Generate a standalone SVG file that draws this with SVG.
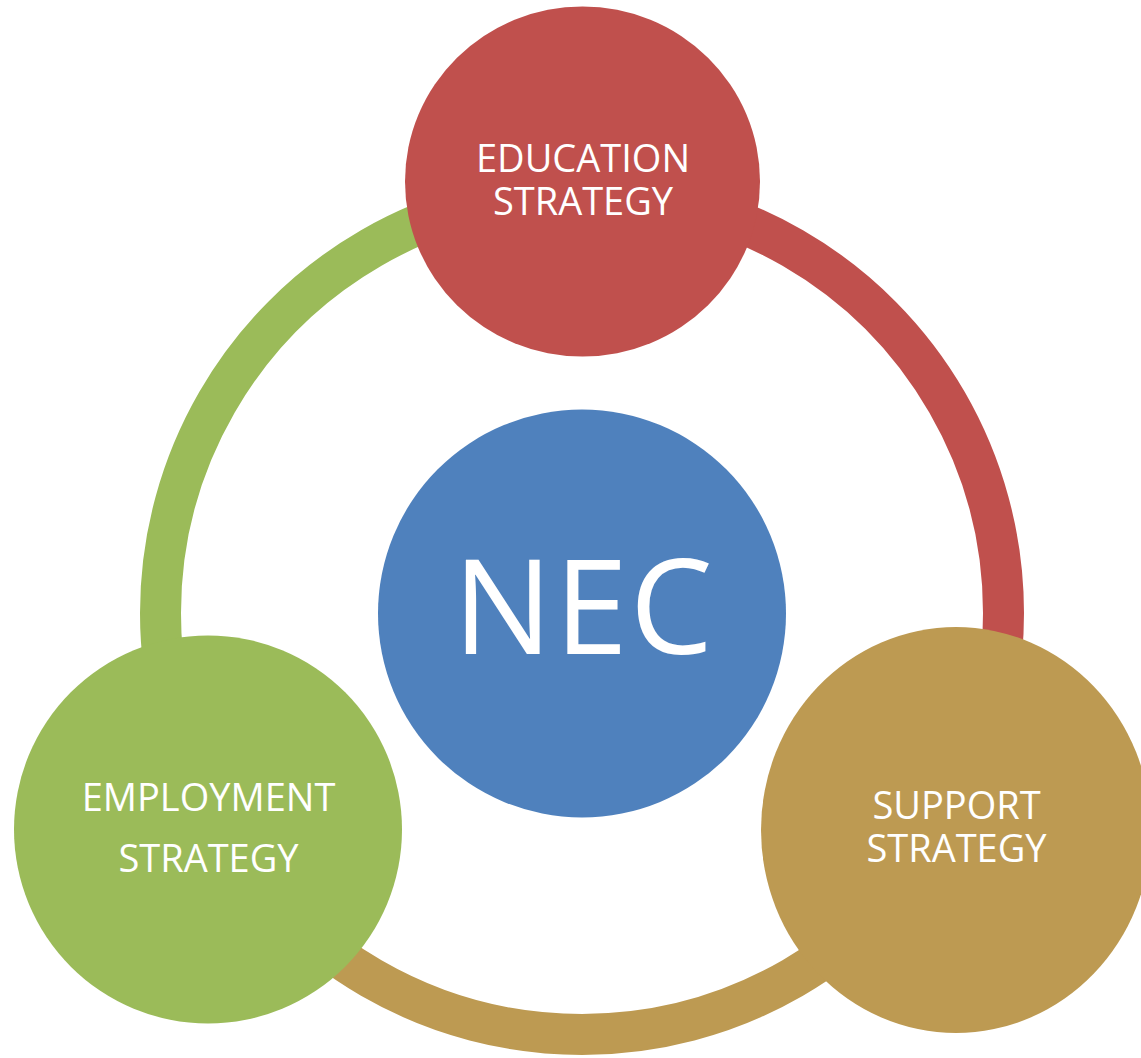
<svg xmlns="http://www.w3.org/2000/svg" width="1141" height="1058" viewBox="0 0 1141 1058">
<style>
.arc{fill:none;stroke-width:41}
.lbl{fill:#FFFFFF;font-family:"Open Sans","Noto Sans","Liberation Sans",sans-serif;font-size:38px;text-anchor:middle}
.big{fill:#FFFFFF;font-family:"Open Sans","Noto Sans","Liberation Sans",sans-serif;font-size:132px;text-anchor:middle}
</style>
<rect width="1141" height="1058" fill="#FFFFFF"/>
<g id="connectors">
<path class="arc" stroke="#C0504D" d="M582,191.5 A421.5,421.5 0 0 1 947.03,823.75"/>
<path class="arc" stroke="#BD9A52" d="M947.03,823.75 A421.5,421.5 0 0 1 216.97,823.75"/>
<path class="arc" stroke="#9BBB59" d="M216.97,823.75 A421.5,421.5 0 0 1 582,191.5"/>
</g>
<g id="nec">
<circle cx="582" cy="613.5" r="204" fill="#4F81BD"/>
<text class="big" x="584" y="654" letter-spacing="2">NEC</text>
</g>
<g id="education">
<ellipse cx="582.5" cy="181.5" rx="177.5" ry="175" fill="#C0504D"/>
<text class="lbl" x="583" y="172">EDUCATION</text>
<text class="lbl" x="583" y="215">STRATEGY</text>
</g>
<g id="support">
<ellipse cx="956" cy="830" rx="195" ry="203" fill="#BD9A52"/>
<text class="lbl" x="956.5" y="819">SUPPORT</text>
<text class="lbl" x="956.5" y="862">STRATEGY</text>
</g>
<g id="employment">
<circle cx="208" cy="829.5" r="194" fill="#9BBB59"/>
<text class="lbl" x="208.5" y="811">EMPLOYMENT</text>
<text class="lbl" x="208.5" y="872">STRATEGY</text>
</g>
</svg>
